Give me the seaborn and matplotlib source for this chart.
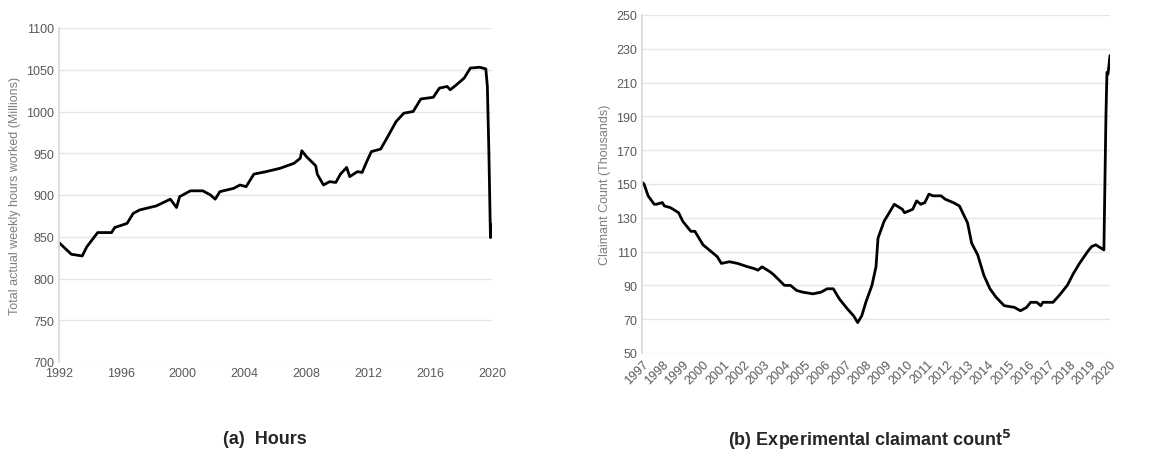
import matplotlib
matplotlib.use("Agg")
import matplotlib.pyplot as plt
import seaborn as sns
import pandas as pd

hours_years = [1992.0,1992.8,1993.5,1993.8,1994.5,1995.4,1995.6,1996.4,1996.8,1997.2,1998.3,1999.2,1999.6,1999.8,
               2000.5,2001.3,2001.8,2002.1,2002.4,2003.3,2003.7,2004.1,2004.6,2005.4,2006.3,2007.2,2007.6,2007.7,
               2008.0,2008.6,2008.7,2009.1,2009.5,2009.9,2010.2,2010.6,2010.8,2011.3,2011.6,2011.9,2012.2,2012.8,
               2013.2,2013.8,2014.3,2014.9,2015.4,2016.2,2016.6,2017.1,2017.3,2017.7,2018.2,2018.6,2019.2,2019.6,
               2019.7,2019.8,2019.9,2020.0]
hours_vals = [843,829,827,838,855,855,861,866,878,882,887,895,885,898,
              905,905,900,895,904,908,912,910,925,928,932,938,944,953,
              946,935,925,912,916,915,925,933,922,928,927,940,952,955,
              968,988,998,1000,1015,1017,1028,1030,1026,1032,1040,1052,1053,1051,
              1030,950,849,865]

claim_years = [1997.0,1997.1,1997.3,1997.6,1997.7,1998.0,1998.1,1998.4,1998.8,1999.0,1999.4,1999.6,2000.0,2000.4,
               2000.7,2000.9,2001.3,2001.7,2002.2,2002.5,2002.7,2002.9,2003.3,2003.5,2004.0,2004.3,2004.6,2004.9,
               2005.4,2005.8,2006.1,2006.4,2006.7,2007.1,2007.4,2007.6,2007.8,2008.0,2008.3,2008.5,2008.6,2008.9,
               2009.2,2009.4,2009.8,2009.9,2010.3,2010.5,2010.7,2010.9,2011.1,2011.3,2011.7,2011.9,2012.3,2012.6,
               2013.0,2013.2,2013.5,2013.8,2014.1,2014.4,2014.8,2015.3,2015.6,2015.9,2016.1,2016.4,2016.6,2016.7,
               2017.2,2017.5,2017.9,2018.2,2018.5,2018.9,2019.1,2019.3,2019.7,2019.8,2019.85,2019.9,2020.0]
claim_vals = [151,150,143,138,138,139,137,136,133,128,122,122,114,110,
              107,103,104,103,101,100,99,101,98,96,90,90,87,86,
              85,86,88,88,82,76,72,68,72,80,90,101,118,128,
              134,138,135,133,135,140,138,139,144,143,143,141,139,137,
              127,115,108,96,88,83,78,77,75,77,80,80,78,80,
              80,84,90,97,103,110,113,114,111,190,216,215,226]

left_ticks = [1992,1996,2000,2004,2008,2012,2016,2020]
right_ticks = list(range(1997, 2021))

sns.set_theme(style="white")
plt.rcParams['font.family'] = ['Liberation Sans', 'DejaVu Sans']

fig = plt.figure(figsize=(11.71, 4.6), dpi=100)
W, H = 1171, 460
ax1 = fig.add_axes([59/W, 1-363/H, (492-59)/W, (363-29)/H])
ax2 = fig.add_axes([642/W, 1-354/H, (1110-642)/W, (354-16)/H])

grey = '#7f7f7f'
df1 = pd.DataFrame({'year': hours_years, 'v': hours_vals})
df2 = pd.DataFrame({'year': claim_years, 'v': claim_vals})
sns.lineplot(data=df1, x='year', y='v', ax=ax1, color='black', lw=2)
sns.lineplot(data=df2, x='year', y='v', ax=ax2, color='black', lw=2)

ax1.set_xlim(1992, 2020); ax1.set_ylim(700, 1100)
ax1.set_yticks(range(700, 1101, 50))
ax1.set_xticks(left_ticks)
ax1.set_xticklabels([str(t) for t in left_ticks])
ax1.set_ylabel('Total actual weekly hours worked (Millions)', color=grey, fontsize=9)
ax2.set_xlim(1997, 2020); ax2.set_ylim(50, 250)
ax2.set_yticks(range(50, 251, 20))
ax2.set_xticks(right_ticks)
ax2.set_xticklabels([str(t) for t in right_ticks], rotation=45, ha='right', rotation_mode='anchor')
ax2.set_ylabel('Claimant Count (Thousands)', color=grey, fontsize=9)

for ax in (ax1, ax2):
    ax.set_xlabel('')
    ax.grid(axis='y', color='#e6e6e6', lw=1)
    ax.grid(axis='x', visible=False)
    for s in ['top', 'right']:
        ax.spines[s].set_visible(False)
    ax.spines['bottom'].set_visible(False)
    ax.spines['left'].set_color('#d9d9d9')
    ax.tick_params(axis='both', colors='#595959', labelsize=9, length=0)

fig.text(265/W, 1-440/H, '(a)  Hours', ha='center', va='center', fontsize=13, fontweight='bold')
fig.text(870/W, 1-440/H, '(b) Experimental claimant count$^{\\mathbf{5}}$', ha='center', va='center',
         fontsize=13, fontweight='bold')

fig.savefig('out.png', dpi=100)
